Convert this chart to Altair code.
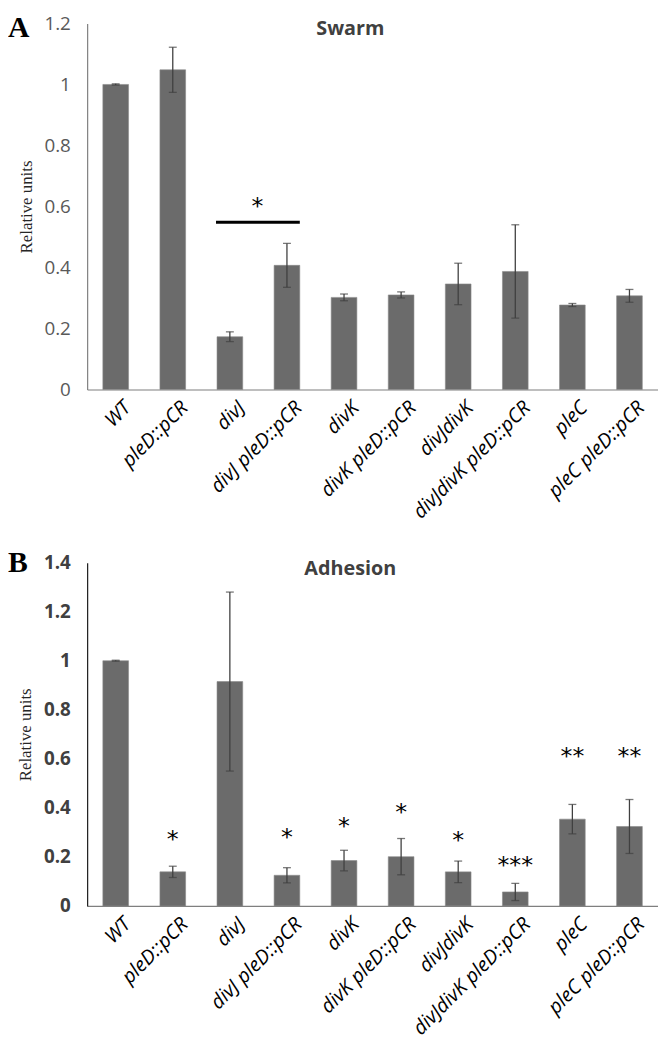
import altair as alt
import pandas as pd

categories = ["WT", "pleD::pCR", "divJ", "divJ pleD::pCR", "divK", "divK pleD::pCR",
              "divJdivK", "divJdivK pleD::pCR", "pleC", "pleC pleD::pCR"]

swarm_mean = [1.0, 1.048, 0.173, 0.407, 0.302, 0.310, 0.346, 0.387, 0.277, 0.307]
swarm_err = [0.002, 0.074, 0.016, 0.072, 0.011, 0.010, 0.068, 0.153, 0.005, 0.021]
swarm_ticks = [0, 0.2, 0.4, 0.6, 0.8, 1.0, 1.2]
swarm_bracket_from = ["divJ"]
swarm_bracket_to = ["divJ pleD::pCR"]
swarm_bracket_y = [0.548]
swarm_bracket_star = ["*"]
swarm_bracket_star_y = [0.62]

adhesion_mean = [1.0, 0.139, 0.915, 0.125, 0.185, 0.201, 0.139, 0.057, 0.354, 0.324]
adhesion_err = [0.002, 0.023, 0.365, 0.031, 0.042, 0.074, 0.044, 0.035, 0.060, 0.110]
adhesion_ticks = [0, 0.2, 0.4, 0.6, 0.8, 1.0, 1.2, 1.4]
adhesion_stars = ["", "*", "", "*", "*", "*", "*", "***", "**", "**"]
adhesion_star_y = [None, 0.297, None, 0.304, 0.350, 0.407, 0.293, 0.191, 0.634, 0.634]

BAR = "#6b6b6b"
ERR = "#404040"


def make_df(mean, err):
    return pd.DataFrame({
        "cat": categories,
        "mean": mean,
        "lo": [m - e for m, e in zip(mean, err)],
        "hi": [m + e for m, e in zip(mean, err)],
    })


def panel(df, ticks, ymax, title, title_y, letter, letter_y, bold, ydomain_color):
    xscale = alt.Scale(domain=categories, paddingInner=0.55, paddingOuter=0.275)
    xaxis = alt.Axis(title=None, labelAngle=-45, labelAlign="right", labelBaseline="top",
                     labelFont="Open Sans", labelFontStyle="italic", labelFontSize=20,
                     labelColor="#000000", labelPadding=8, labelOffset=5, ticks=False,
                     domainColor="#7f7f7f", domainWidth=1.2, labelLimit=0)
    yscale = alt.Scale(domain=[0, ymax], nice=False, zero=True)
    yaxis = alt.Axis(values=ticks, format="~g", grid=False, ticks=False,
                     title="Relative units", titleFont="Liberation Serif", titleFontSize=17,
                     titleFontWeight="normal", titleColor="#262626", titlePadding=9,
                     labelFont="Open Sans", labelFontSize=19,
                     labelFontWeight="bold" if bold else "normal",
                     labelColor="#404040" if bold else "#595959", labelPadding=17,
                     domainColor=ydomain_color, domainWidth=1.2)
    x = alt.X("cat:N", sort=categories, scale=xscale, axis=xaxis)
    base = alt.Chart(df)
    bars = base.mark_bar(color=BAR, stroke="#8a8a8a", strokeWidth=0.6).encode(
        x=x, y=alt.Y("mean:Q", scale=yscale, axis=yaxis))
    err = base.mark_rule(color=ERR, strokeWidth=1.3).encode(
        x=alt.X("cat:N", sort=categories),
        y=alt.Y("lo:Q", title="Relative units"), y2="hi:Q")
    cap_lo = base.mark_tick(color=ERR, size=8, thickness=1.3).encode(
        x=alt.X("cat:N", sort=categories), y=alt.Y("lo:Q", title="Relative units"))
    cap_hi = base.mark_tick(color=ERR, size=8, thickness=1.3).encode(
        x=alt.X("cat:N", sort=categories), y=alt.Y("hi:Q", title="Relative units"))
    ttl = alt.Chart(pd.DataFrame({"t": [title]})).mark_text(
        font="Open Sans", fontWeight="bold", fontSize=20, color="#404040",
        align="center", baseline="alphabetic").encode(
        text="t:N", x=alt.value(266), y=alt.value(title_y))
    let = alt.Chart(pd.DataFrame({"t": [letter]})).mark_text(
        font="Liberation Serif", fontWeight="bold", fontSize=30, color="#000000",
        align="left", baseline="alphabetic").encode(
        text="t:N", x=alt.value(-80), y=alt.value(letter_y))
    return [bars, err, cap_lo, cap_hi, ttl, let]


swarm_df = make_df(swarm_mean, swarm_err)
adh_df = make_df(adhesion_mean, adhesion_err)
adh_df["stars"] = adhesion_stars
adh_df["star_y"] = adhesion_star_y

layers_a = panel(swarm_df, swarm_ticks, 1.2, "Swarm", 12, "A", 14, False, "#7f7f7f")
bracket_df = pd.DataFrame({"a": swarm_bracket_from, "b": swarm_bracket_to,
                           "y": swarm_bracket_y, "s": swarm_bracket_star,
                           "sy": swarm_bracket_star_y})
bracket = alt.Chart(bracket_df).mark_rule(color="#000000", strokeWidth=3, xOffset=-14, x2Offset=13).encode(
    x=alt.X("a:N", sort=categories), x2="b:N", y=alt.Y("y:Q", title="Relative units"))
bracket_star = alt.Chart(bracket_df).mark_text(
    font="DejaVu Sans", fontSize=24, color="#000000", baseline="alphabetic", dy=14,
    xOffset=28).encode(
    x=alt.X("a:N", sort=categories), y=alt.Y("sy:Q", title="Relative units"), text="s:N")
chart_a = alt.layer(*layers_a, bracket, bracket_star).properties(width=577, height=370)

layers_b = panel(adh_df, adhesion_ticks, 1.4, "Adhesion", 12, "B", 9, True, "#1a1a1a")
stars = alt.Chart(adh_df).transform_filter("datum.stars != ''").mark_text(
    font="DejaVu Sans", fontSize=24, color="#000000", baseline="alphabetic", dy=14).encode(
    x=alt.X("cat:N", sort=categories), y=alt.Y("star_y:Q", title="Relative units"),
    text="stars:N")
chart_b = alt.layer(*layers_b, stars).properties(width=577, height=347)

chart = alt.vconcat(chart_a, chart_b, spacing=26).configure_view(stroke=None).properties(
    background="white", padding={"top": 0, "left": 0, "right": 0, "bottom": 6})

chart.save("out.html", embed_options={"renderer": "svg", "actions": False})
